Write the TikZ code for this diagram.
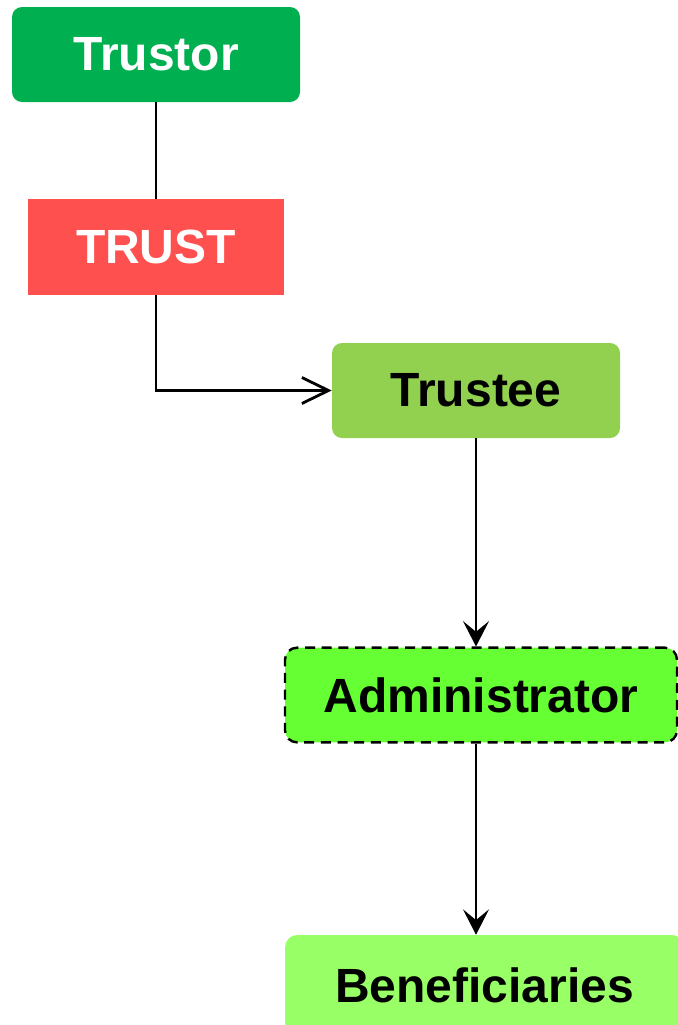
\documentclass[tikz,border=0pt]{standalone}
\usepackage{fontspec}
\setmainfont{Liberation Sans}
\usetikzlibrary{arrows.meta, positioning}
\definecolor{trustorgreen}{RGB}{0,176,80}
\definecolor{trustred}{RGB}{255,80,80}
\definecolor{trusteegreen}{RGB}{146,208,80}
\definecolor{admingreen}{RGB}{102,255,51}
\definecolor{benefgreen}{RGB}{153,255,102}
\tikzstyle{party} = [rounded corners=7.5pt, minimum width=216pt, minimum height=71.25pt, inner sep=0pt, font=\fontsize{36}{42}\selectfont\bfseries]
\tikzstyle{link} = [line width=2.1pt]
\tikzstyle{arrow} = [link, -{Stealth[length=19pt, width=19.5pt, inset=8pt]}]
\tikzstyle{openarrow} = [link, -{Straight Barb[length=20pt, width=19.5pt]}]

\begin{document}
\begin{tikzpicture}[x=0.75pt, y=-0.75pt]
    \clip (0, 0) rectangle (678, 1025);
    \node[party, fill=trustorgreen, text=white] (trustor) at (156, 54.5) {Trustor};
    \node[party, fill=trustred, text=white, rounded corners=0pt, minimum width=192pt, minimum height=72pt] (trust) at (156, 247) {TRUST};
    \node[party, fill=trusteegreen] (trustee) at (476, 390.5) {Trustee};
    \node[party, fill=admingreen, draw, line width=1.8pt, dash pattern=on 7.5pt off 5pt, rounded corners=9pt, minimum width=294pt, minimum height=71pt] (admin) at (481, 695) {Administrator};
    \node[party, fill=benefgreen, rounded corners=9pt, minimum width=299pt, minimum height=75pt] (benef) at (484.5, 985) {Beneficiaries};
    \draw[link] (trustor) -- (trust);
    \draw[openarrow] (trust.south) |- (trustee.west);
    \draw[arrow] (trustee.south) -- (trustee.south |- admin.north);
    \draw[arrow] (trustee.south |- admin.south) -- (trustee.south |- benef.north);
\end{tikzpicture}
\end{document}
